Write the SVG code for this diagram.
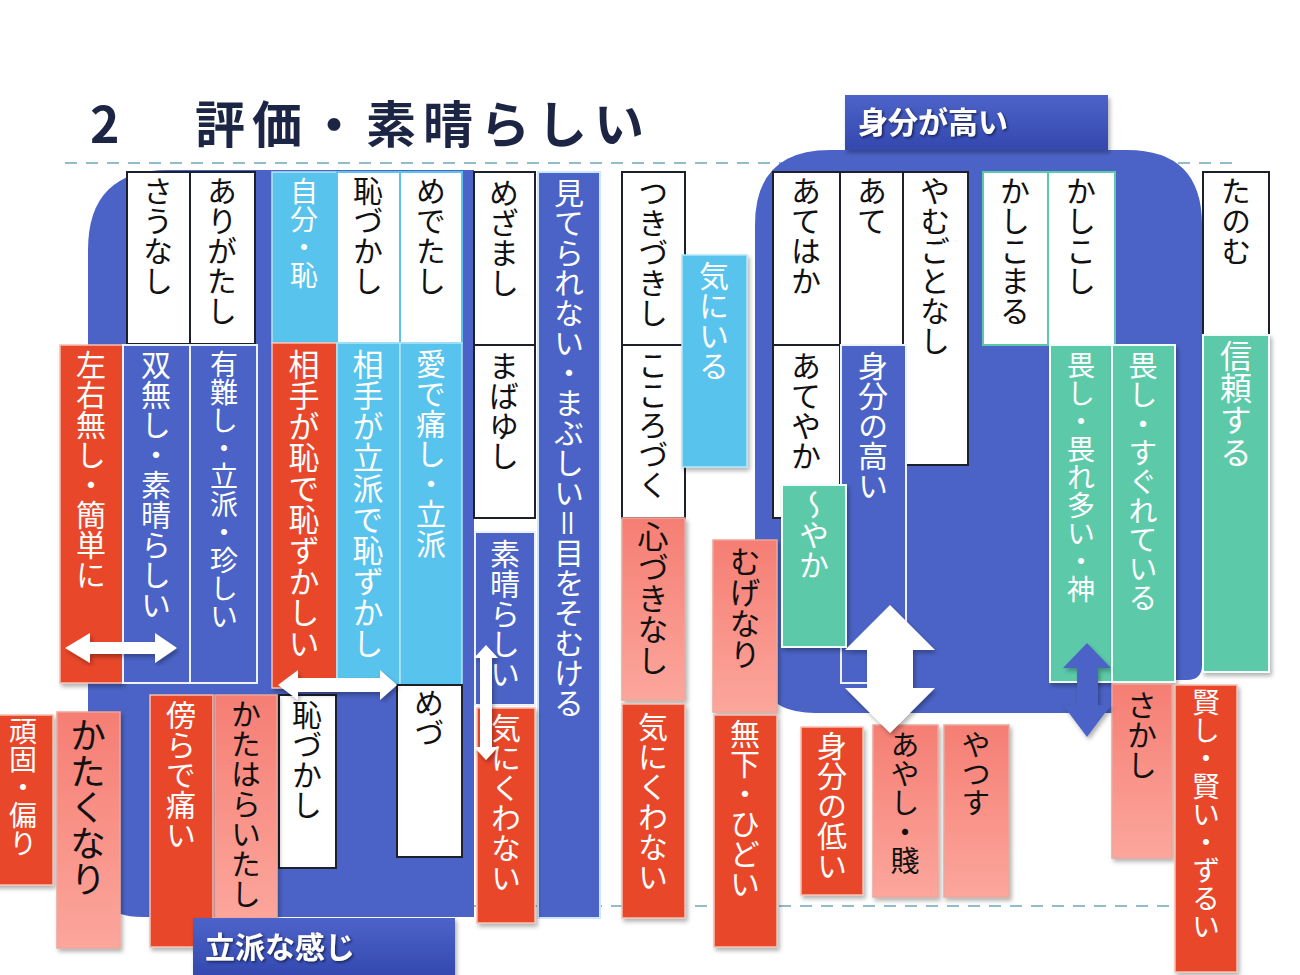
<svg xmlns="http://www.w3.org/2000/svg" width="1300" height="975" viewBox="0 0 1300 975">
<defs>
<linearGradient id="pink" x1="0" y1="0" x2="0" y2="1"><stop offset="0" stop-color="#f57e74"/><stop offset="1" stop-color="#fca69c"/></linearGradient>
<linearGradient id="lab" x1="0" y1="0" x2="0" y2="1"><stop offset="0" stop-color="#4d63c9"/><stop offset="1" stop-color="#3348ae"/></linearGradient>
<filter id="sh" x="-20%" y="-5%" width="150%" height="115%"><feDropShadow dx="2" dy="3" stdDeviation="2" flood-color="#000" flood-opacity="0.3"/></filter>
<filter id="ts" x="-10%" y="-20%" width="130%" height="150%"><feDropShadow dx="1.5" dy="1.5" stdDeviation="1" flood-color="#101840" flood-opacity="0.8"/></filter>
</defs>
<style>
.w{fill:#fff;stroke:#1c1f2c;stroke-width:2}
.wb{fill:#fff;stroke:#5cc4ec;stroke-width:2}
.wt{fill:#fff;stroke:#5ccaa9;stroke-width:2}
.b{fill:#4b63c6;stroke:#eef2ff;stroke-width:2}
.r{fill:#e8472b;stroke:#f6c0b2;stroke-width:1.5;filter:url(#sh)}
.p{fill:url(#pink);stroke:#eba79b;stroke-width:1.5;filter:url(#sh)}
.lb{fill:#58c3ec;stroke:#b4e6f8;stroke-width:1.5}
.t{fill:#5ccaa9;stroke:#effffa;stroke-width:2;filter:url(#sh)}
.bg{fill:#4b63c6}
.lbl{fill:url(#lab);filter:url(#sh)}
text{font-family:"Noto Sans CJK JP","Noto Sans",sans-serif}
.v{writing-mode:vertical-rl;font-size:30px}
.k{fill:#111}
.wh{fill:#fff}
.lt{font-size:30px;font-weight:700;fill:#fff;filter:url(#ts)}
.dash{stroke:#93bccb;stroke-width:2;stroke-dasharray:12 9;fill:none}
.arw{fill:#fff;filter:url(#sh)}
.arb{fill:#4b63c6;filter:url(#sh)}
</style>
<rect width="1300" height="975" fill="#fff"/>
<g id="guides">
<line class="dash" x1="65" y1="163" x2="1240" y2="163"/>
<line class="dash" x1="65" y1="906" x2="1175" y2="906"/>
</g>
<g id="title"><text x="90" y="143" font-size="50" font-weight="700" fill="#1c2544" letter-spacing="7"><tspan x="90">2　</tspan><tspan x="195">評価・素晴らしい</tspan></text></g>
<g id="bg-left"><path class="bg" d="M168,170 L474,170 L474,917 L143,917 Q88,917 88,862 L88,250 Q88,170 168,170 Z"/></g>
<g id="bg-right"><path class="bg" d="M830,150 L1127,150 Q1202,150 1202,225 L1202,665 Q1202,680 1187,680 L1112,680 L1112,713 L815,713 Q755,713 755,653 L755,225 Q755,150 830,150 Z"/></g>

<g id="n-saunashi"><rect class="w" x="127" y="172" width="63" height="172"/><text class="v k" x="158" y="176">さうなし</text></g>
<g id="n-arigatashi"><rect class="w" x="190" y="172" width="65" height="172"/><text class="v k" x="222" y="176">ありがたし</text></g>
<g id="n-jibun"><rect class="lb" x="272" y="172" width="65" height="171"/><text class="v wh" x="304" y="177" style="font-size:28px">自分・恥</text></g>
<g id="n-hazukashi1"><rect class="wb" x="337" y="172" width="63" height="171"/><text class="v k" x="368" y="176">恥づかし</text></g>
<g id="n-medetashi"><rect class="wb" x="400" y="172" width="62" height="171"/><text class="v k" x="431" y="176">めでたし</text></g>
<g id="n-sayunashi"><rect class="r" x="60" y="345" width="63" height="338"/><text class="v wh" x="91" y="350">左右無し・簡単に</text></g>
<g id="n-sounashi"><rect class="b" x="123" y="345" width="67" height="338"/><text class="v wh" x="156" y="350">双無し・素晴らしい</text></g>
<g id="n-arigatashi2"><rect class="b" x="190" y="345" width="67" height="338"/><text class="v wh" x="224" y="350" style="font-size:28px">有難し・立派・珍しい</text></g>
<g id="n-aite-haji"><rect class="r" x="272" y="343" width="65" height="345"/><text class="v wh" x="304" y="349" style="font-size:31px">相手が恥で恥ずかしい</text></g>
<g id="n-aite-rippa"><rect class="lb" x="337" y="343" width="63" height="342"/><text class="v wh" x="368" y="349" style="font-size:31px">相手が立派で恥ずかし</text></g>
<g id="n-medeitashi"><rect class="lb" x="400" y="343" width="62" height="342"/><text class="v wh" x="431" y="349">愛で痛し・立派</text></g>
<g id="n-hazukashi2"><rect class="w" x="279" y="695" width="57" height="173"/><text class="v k" x="307" y="700">恥づかし</text></g>
<g id="n-medu"><rect class="w" x="397" y="685" width="65" height="172"/><text class="v k" x="429" y="688">めづ</text></g>
<g id="n-ganko"><rect class="r" x="-10" y="715" width="63" height="170"/><text class="v wh" x="23" y="717" style="font-size:28px">頑固・偏り</text></g>
<g id="n-katakunari"><rect class="p" x="57" y="712" width="63" height="236"/><text class="v k" x="88" y="717" style="font-size:36px">かたくなり</text></g>
<g id="n-katawara"><rect class="r" x="150" y="695" width="63" height="252"/><text class="v wh" x="181" y="700">傍らで痛い</text></g>
<g id="n-katawaraitashi"><rect class="p" x="215" y="695" width="62" height="224"/><text class="v k" x="246" y="699">かたはらいたし</text></g>

<g id="n-mezamashi"><rect class="w" x="474" y="172" width="61" height="173"/><text class="v k" x="504" y="178">めざまし</text></g>
<g id="n-mabayushi"><rect class="w" x="474" y="345" width="61" height="173"/><text class="v k" x="504" y="351">まばゆし</text></g>
<g id="n-miterarenai"><rect class="b" x="538" y="172" width="62" height="746" style="stroke:#cfe6ff"/><text class="v wh" x="569" y="178">見てられない・まぶしい＝目をそむける</text></g>
<g id="n-subarashii"><rect class="b" x="475" y="532" width="60" height="173"/><text class="v wh" x="505" y="539">素晴らしい</text></g>
<g id="n-kinikuwanai1"><rect class="r" x="477" y="708" width="58" height="215"/><text class="v wh" x="506" y="713">気にくわない</text></g>
<g id="n-tsukizukishi"><rect class="w" x="622" y="172" width="63" height="173"/><text class="v k" x="653" y="178">つきづきし</text></g>
<g id="n-kokorozuku"><rect class="w" x="622" y="345" width="63" height="173"/><text class="v k" x="653" y="350">こころづく</text></g>
<g id="n-kiniiru"><rect class="lb" x="682" y="255" width="65" height="212" style="filter:url(#sh)"/><text class="v wh" x="714" y="261">気にいる</text></g>
<g id="n-kokorozukinashi"><rect class="p" x="622" y="518" width="63" height="182"/><text class="v k" x="653" y="521" style="font-size:31px">心づきなし</text></g>
<g id="n-kinikuwanai2"><rect class="r" x="622" y="704" width="63" height="214"/><text class="v wh" x="653" y="712">気にくわない</text></g>
<g id="n-mugenari"><rect class="p" x="713" y="540" width="64" height="172"/><text class="v k" x="745" y="546" style="font-size:31px">むげなり</text></g>
<g id="n-muge-hidoi"><rect class="r" x="714" y="715" width="63" height="232"/><text class="v wh" x="745" y="719">無下・ひどい</text></g>

<g id="n-atehaka"><rect class="w" x="773" y="172" width="67" height="173"/><text class="v k" x="806" y="176">あてはか</text></g>
<g id="n-ate"><rect class="w" x="840" y="172" width="65" height="173"/><text class="v k" x="872" y="176">あて</text></g>
<g id="n-yamugotonashi"><rect class="w" x="903" y="172" width="65" height="293"/><text class="v k" x="935" y="176">やむごとなし</text></g>
<g id="n-ateyaka"><rect class="w" x="773" y="345" width="67" height="173"/><text class="v k" x="806" y="351">あてやか</text></g>
<g id="n-mibun-takai"><rect class="b" x="841" y="345" width="65" height="338"/><text class="v wh" x="873" y="351">身分の高い</text></g>
<g id="n-yaka"><rect class="t" x="782" y="485" width="64" height="162"/><text class="v wh" x="814" y="490">～やか</text></g>
<g id="n-kashikomaru"><rect class="wt" x="983" y="172" width="65" height="173"/><text class="v k" x="1015" y="176">かしこまる</text></g>
<g id="n-kashikoshi"><rect class="wt" x="1048" y="172" width="67" height="173"/><text class="v k" x="1081" y="176">かしこし</text></g>
<g id="n-kashikoshi2"><rect class="t" x="1050" y="345" width="62" height="337"/><text class="v wh" x="1081" y="351" style="font-size:28px">畏し・畏れ多い・神</text></g>
<g id="n-kashikoshi3"><rect class="t" x="1112" y="345" width="63" height="337"/><text class="v wh" x="1143" y="351" style="font-size:29px">畏し・すぐれている</text></g>
<g id="n-tanomu"><rect class="w" x="1203" y="172" width="66" height="163"/><text class="v k" x="1236" y="176">たのむ</text></g>
<g id="n-shinrai"><rect class="t" x="1203" y="335" width="66" height="337"/><text class="v wh" x="1236" y="340" style="font-size:32px">信頼する</text></g>
<g id="n-sakashi"><rect class="p" x="1112" y="684" width="60" height="174"/><text class="v k" x="1142" y="690">さかし</text></g>
<g id="n-kashikoshi-zurui"><rect class="r" x="1175" y="685" width="62" height="287"/><text class="v wh" x="1206" y="688" style="font-size:28px">賢し・賢い・ずるい</text></g>
<g id="n-mibun-hikui"><rect class="r" x="801" y="727" width="62" height="168"/><text class="v wh" x="832" y="731">身分の低い</text></g>
<g id="n-ayashi"><rect class="p" x="873" y="725" width="65" height="172"/><text class="v k" x="905" y="730" style="font-size:29px">あやし・賤</text></g>
<g id="n-yatsusu"><rect class="p" x="944" y="725" width="65" height="172"/><text class="v k" x="976" y="730" style="font-size:29px">やつす</text></g>

<g id="label-rippa"><rect class="lbl" x="193" y="918" width="262" height="60"/><text class="lt" x="205" y="958">立派な感じ</text></g>
<g id="label-mibun"><rect class="lbl" x="845" y="95" width="263" height="55"/><text class="lt" x="858" y="133">身分が高い</text></g>

<g id="connectors">
<polygon class="arw" points="65,648 90,633 90,642 155,642 155,633 177,648 155,663 155,654 90,654 90,663"/>
<polygon class="arw" points="278,685 298,670 298,678 380,678 380,670 397,685 380,700 380,692 298,692 298,700"/>
<polygon class="arw" points="486,645 498,658 492,658 492,747 498,747 486,760 474,747 480,747 480,658 474,658"/>
<polygon class="arw" points="890,605 935,650 913,650 913,688 935,688 890,733 845,688 867,688 867,650 845,650"/>
<polygon class="arb" points="1087,643 1111,668 1098,668 1098,705 1111,705 1087,737 1063,705 1077,705 1077,668 1063,668"/>
</g>
</svg>
